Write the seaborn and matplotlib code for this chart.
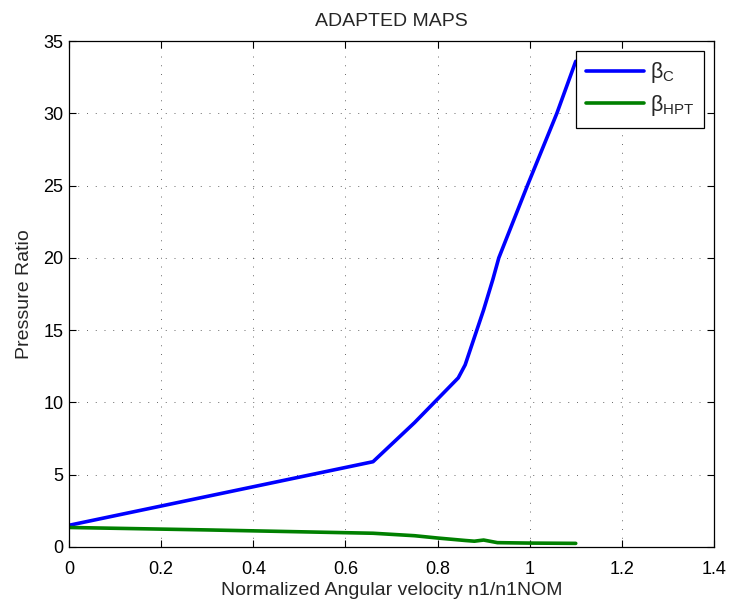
import matplotlib
matplotlib.use("Agg")
import matplotlib.pyplot as plt
import seaborn as sns
import pandas as pd

# Data
beta_c_x = [0.0, 0.66, 0.75, 0.845, 0.86, 0.90, 0.92, 0.933, 0.995, 1.059, 1.1]
beta_c_y = [1.5, 5.9, 8.6, 11.7, 12.6, 16.4, 18.5, 20.0, 25.0, 30.0, 33.6]
beta_hpt_x = [0.0, 0.3, 0.66, 0.75, 0.8, 0.86, 0.88, 0.90, 0.91, 0.93, 1.0, 1.1]
beta_hpt_y = [1.35, 1.18, 0.95, 0.78, 0.62, 0.45, 0.40, 0.48, 0.42, 0.30, 0.27, 0.25]
xticks = [0, 0.2, 0.4, 0.6, 0.8, 1.0, 1.2, 1.4]
xtick_labels = ["0", "0.2", "0.4", "0.6", "0.8", "1", "1.2", "1.4"]
yticks = [0, 5, 10, 15, 20, 25, 30, 35]

sns.set_style("white")
plt.rcParams["font.family"] = ["Liberation Sans", "DejaVu Sans"]
plt.rcParams["mathtext.fontset"] = "custom"
plt.rcParams["mathtext.rm"] = "Liberation Sans"
plt.rcParams["mathtext.it"] = "Liberation Sans"
plt.rcParams["mathtext.bf"] = "Liberation Sans:bold"

df_c = pd.DataFrame({"x": beta_c_x, "y": beta_c_y})
df_h = pd.DataFrame({"x": beta_hpt_x, "y": beta_hpt_y})

fig = plt.figure(figsize=(7.3, 6.04), dpi=100)
ax = fig.add_axes([0.0945, 0.0944, 0.8835, 0.8376])

sns.lineplot(data=df_c, x="x", y="y", ax=ax, color="#0000ff", lw=2.6,
             label=r"$\beta_{C}$", sort=False)
sns.lineplot(data=df_h, x="x", y="y", ax=ax, color="#008000", lw=2.6,
             label=r"$\beta_{HPT}$", sort=False)

ax.set_xlim(0, 1.4)
ax.set_ylim(0, 35)
ax.set_xticks(xticks)
ax.set_xticklabels(xtick_labels)
ax.set_yticks(yticks)
ax.tick_params(direction="in", length=5, width=0.8, labelsize=13, colors="black",
               top=True, right=True, bottom=True, left=True)
ax.tick_params(axis="x", pad=10)
ax.tick_params(axis="y", pad=4)
ax.grid(True, linestyle=(0, (1, 8)), color="black", lw=0.7, alpha=0.6)
for s in ax.spines.values():
    s.set_visible(True)
    s.set_color("black")
    s.set_linewidth(0.9)

ax.set_xlabel("Normalized Angular velocity n1/n1NOM", fontsize=14, labelpad=3)
ax.set_ylabel("Pressure Ratio", fontsize=14, labelpad=7.5)
ax.set_title("ADAPTED MAPS", fontsize=14, pad=11)

leg = ax.legend(loc="upper right", fontsize=15.5, handlelength=2.7, frameon=True,
                fancybox=False, framealpha=1, edgecolor="black",
                borderaxespad=0.45, labelspacing=0.35, handletextpad=0.3,
                borderpad=0.45)
leg.get_frame().set_linewidth(0.9)

fig.savefig("out.png", dpi=100)
